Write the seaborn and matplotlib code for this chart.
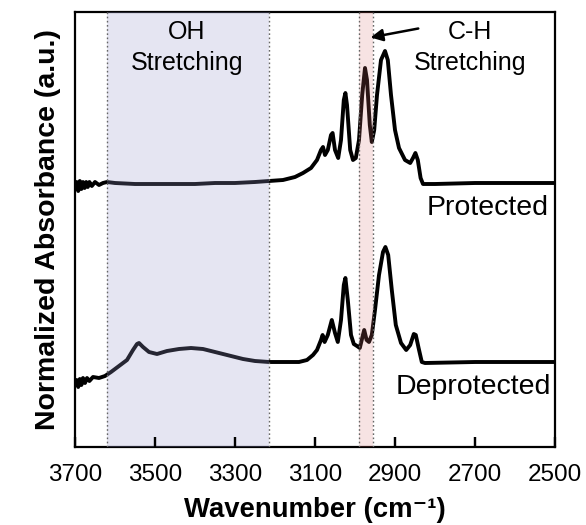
import matplotlib
matplotlib.use("Agg")
import matplotlib.pyplot as plt
import seaborn as sns
import pandas as pd

# Wavenumber (cm-1) and absorbance (a.u., stacked)
prot_wn = [3700, 3696, 3692, 3688, 3684, 3680, 3676, 3672, 3668, 3664, 3658, 3650, 3640, 3630,
           3620, 3600, 3550, 3500, 3450, 3400, 3350, 3300, 3250, 3215, 3180, 3150, 3130, 3110,
           3095, 3085, 3080, 3075, 3068, 3060, 3056, 3050, 3042, 3035, 3028, 3024, 3020, 3012,
           3005, 2998, 2990, 2982, 2975, 2970, 2963, 2958, 2952, 2945, 2935, 2925, 2918, 2910,
           2900, 2890, 2875, 2862, 2855, 2849, 2843, 2836, 2830, 2800, 2700, 2600, 2500]
prot_abs = [259, 265, 256, 266, 258, 265, 259, 265, 260, 265, 261, 265, 262, 264,
            265, 264, 263, 263, 263, 263, 264, 264, 265, 266, 267, 270, 274, 279,
            287, 297, 300, 292, 297, 312, 314, 297, 289, 307, 347, 354, 342, 297,
            287, 289, 307, 352, 379, 367, 322, 305, 317, 352, 387, 396, 387, 352,
            317, 299, 287, 284, 289, 294, 287, 269, 263, 263, 264, 264, 264]

dep_wn = [3700, 3696, 3692, 3688, 3684, 3680, 3675, 3670, 3664, 3655, 3640, 3625, 3610, 3590,
          3570, 3555, 3545, 3540, 3530, 3515, 3495, 3470, 3440, 3410, 3380, 3350, 3310, 3280,
          3250, 3215, 3180, 3140, 3120, 3105, 3095, 3085, 3081, 3076, 3068, 3058, 3050, 3043,
          3035, 3028, 3024, 3018, 3010, 3003, 2995, 2988, 2982, 2977, 2971, 2965, 2958, 2950,
          2940, 2930, 2924, 2917, 2908, 2898, 2885, 2872, 2862, 2853, 2848, 2841, 2833, 2825,
          2700, 2600, 2500]
dep_abs = [62, 67, 60, 68, 62, 69, 64, 69, 66, 70, 69, 71, 75, 81,
           87, 97, 103, 104, 100, 95, 93, 96, 98, 99, 98, 95, 91, 88,
           86, 85, 85, 85, 87, 92, 97, 107, 112, 105, 112, 127, 114, 105,
           127, 162, 169, 147, 112, 103, 101, 99, 109, 117, 107, 105, 112, 137,
           172, 195, 200, 192, 157, 122, 104, 97, 102, 113, 112, 99, 85, 84,
           85, 85, 85]

x_ticks = [3700, 3500, 3300, 3100, 2900, 2700, 2500]
oh_region = (3620, 3215)
ch_region = (2990, 2955)

sns.set_style("white", {"xtick.bottom": True, "xtick.direction": "in",
                        "xtick.color": "black", "text.color": "black",
                        "axes.labelcolor": "black", "axes.edgecolor": "black"})
plt.rcParams["font.family"] = ["Liberation Sans", "DejaVu Sans"]
plt.rcParams["xtick.major.size"] = 7.5
plt.rcParams["xtick.major.width"] = 1.6

fig = plt.figure(figsize=(5.86, 5.25), dpi=100)
ax = fig.add_axes([75 / 586, 78 / 525, 480 / 586, 435 / 525])

df_p = pd.DataFrame({"wn": prot_wn, "a": prot_abs})
df_d = pd.DataFrame({"wn": dep_wn, "a": dep_abs})
sns.lineplot(data=df_p, x="wn", y="a", ax=ax, color="black", lw=2.8, sort=False,
             estimator=None, zorder=2)
sns.lineplot(data=df_d, x="wn", y="a", ax=ax, color="black", lw=2.8, sort=False,
             estimator=None, zorder=2)

ax.axvspan(oh_region[1], oh_region[0], color=(0.6, 0.6, 0.8), alpha=0.25, lw=0, zorder=3)
ax.axvspan(ch_region[1], ch_region[0], color=(0.85, 0.45, 0.45), alpha=0.2, lw=0, zorder=3)
for xv in list(oh_region) + list(ch_region):
    ax.axvline(xv, color="#666666", lw=1.0, ls=(0, (1.2, 1.8)), zorder=4)

ax.set_xlim(3700, 2500)
ax.set_ylim(0, 435)
ax.set_xticks(x_ticks)
ax.set_xticklabels([str(t) for t in x_ticks])
ax.set_yticks([])
ax.tick_params(axis="x", which="major", direction="in", length=7.5, width=1.6,
               labelsize=17.5, pad=12, bottom=True, color="black", labelcolor="black")
# inward tick marks at the major tick positions
ax.vlines(x_ticks, 0, 0.024, transform=ax.get_xaxis_transform(), colors="black",
          lw=1.6, zorder=6)
for s in ax.spines.values():
    s.set_visible(True)
    s.set_color("black")
    s.set_linewidth(1.6)

ax.set_xlabel("Wavenumber (cm\u207b\u00b9)", fontsize=19.8, fontweight="bold", labelpad=8,
              color="black")
ax.set_ylabel("Normalized Absorbance (a.u.)", fontsize=20.5, fontweight="bold", labelpad=10,
              color="black")

ax.text(3420, 415, "OH", ha="center", va="center", fontsize=18, color="black")
ax.text(3420, 384, "Stretching", ha="center", va="center", fontsize=18, color="black")
ax.text(2712, 415, "C-H", ha="center", va="center", fontsize=18, color="black")
ax.text(2712, 384, "Stretching", ha="center", va="center", fontsize=18, color="black")
ax.text(2515, 239, "Protected", ha="right", va="center", fontsize=20.5, color="black")
ax.text(2510, 60, "Deprotected", ha="right", va="center", fontsize=20.5, color="black")

ax.annotate("", xy=(2968, 409), xytext=(2835, 419),
            arrowprops=dict(arrowstyle="-|>", color="black", lw=1.8, mutation_scale=18),
            zorder=5)

fig.savefig("out.png", dpi=100)
